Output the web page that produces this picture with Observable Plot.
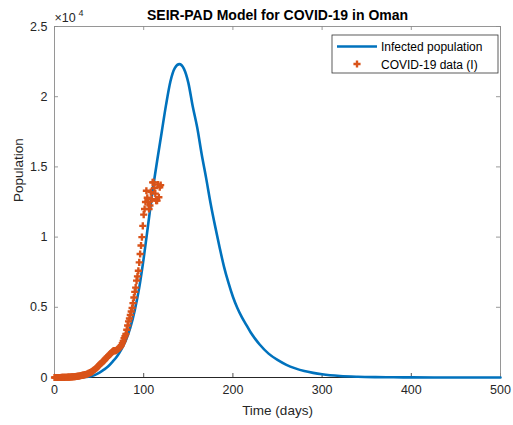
<!DOCTYPE html>
<html>
<head>
<meta charset="utf-8">
<script src="https://cdn.jsdelivr.net/npm/d3@7"></script>
<script src="https://cdn.jsdelivr.net/npm/@observablehq/plot@0.6"></script>
<style>
  html, body { margin: 0; padding: 0; background: #fff; }
  #chart { position: relative; width: 513px; height: 425px; }
  svg { font-family: "Liberation Sans", Arial, Helvetica, sans-serif; }
</style>
</head>
<body>
<div id="chart"></div>
<script>
// ---- Data ----
const titleText = "SEIR-PAD Model for COVID-19 in Oman";
const xLabel = "Time (days)";
const yLabel = "Population";
const seriesNames = ["Infected population", "COVID-19 data (I)"];

// Model curve: infected population (day, value)
const curveDays = [0, 20, 30, 40, 45, 50, 55, 60, 65, 70, 75, 80, 85, 90, 95, 100, 105, 110, 115, 120, 125, 130, 135, 140, 145, 150, 155, 160, 165, 170, 175, 180, 185, 190, 195, 200, 205, 210, 215, 220, 225, 230, 240, 250, 260, 270, 280, 290, 300, 320, 340, 360, 380, 400, 450, 500];
const curveValues = [0, 5, 20, 80, 170, 330, 540, 780, 1120, 1500, 2000, 2650, 3550, 4800, 6400, 8500, 10900, 13300, 15400, 17400, 19400, 21100, 22050, 22320, 22000, 21000, 19300, 17800, 15900, 14200, 12400, 10800, 9300, 7900, 6750, 5750, 4950, 4300, 3750, 3200, 2750, 2350, 1700, 1250, 900, 650, 460, 330, 230, 110, 55, 28, 14, 7, 2, 0];

// Reported COVID-19 data (I), one value per day starting at day 0
const dataValues = [
  0, 0, 0, 0, 0, 0, 2, 2, 5, 8,
  10, 12, 15, 18, 20, 22, 25, 30, 35, 40,
  45, 50, 55, 60, 70, 80, 90, 100, 110, 125,
  140, 150, 165, 180, 200, 215, 235, 260, 290, 320,
  350, 380, 420, 470, 520, 570, 620, 680, 740, 810,
  880, 940, 1000, 1050, 1120, 1180, 1250, 1320, 1400, 1460,
  1520, 1580, 1640, 1700, 1780, 1850, 1900, 1920, 1900, 1920,
  1980, 2020, 2080, 2130, 2200, 2300, 2450, 2600, 2800, 2950,
  3100, 3400, 3700, 4000, 4200, 4450, 4700, 4950, 5300, 5700,
  6100, 6400, 6900, 7200, 7600, 8200, 8800, 9400, 10000, 10800,
  11600, 12000, 12500, 13300, 12800, 12500, 12000, 12250, 13200, 12700,
  13900, 13900, 13500, 13100, 12600, 12600, 13750, 12840, 13550, 13700
];

const xTicks = [0, 100, 200, 300, 400, 500];
const yTicks = [0, 5000, 10000, 15000, 20000, 25000];
const yTickLabels = ["0", "0.5", "1", "1.5", "2", "2.5"];
const exponentBase = "\u00d710";
const exponent = "4";

// ---- Build tables ----
const curve = curveDays.map((d, i) => ({day: d, value: curveValues[i]}));
const data = dataValues.map((v, i) => ({day: i, value: v}));

const blue = "#0072BD";
const orange = "#D95319";
const axisColor = "#262626";
const W = 513, H = 425;
const mL = 54, mR = 13, mT = 26, mB = 48;
const frameW = W - mL - mR, frameH = H - mT - mB;
const tickLen = 4;

const plot = Plot.plot({
  width: W,
  height: H,
  marginLeft: mL,
  marginRight: mR,
  marginTop: mT,
  marginBottom: mB,
  style: {fontFamily: '"Liberation Sans", Arial, Helvetica, sans-serif', background: "#fff"},
  x: {domain: [0, 500]},
  y: {domain: [0, 25000]},
  marks: [
    // inward ticks on all four sides
    Plot.tickX(xTicks, {x: d => d, insetTop: frameH - tickLen, stroke: axisColor, strokeWidth: 0.8}),
    Plot.tickX(xTicks, {x: d => d, insetBottom: frameH - tickLen, stroke: "#808080", strokeWidth: 0.8}),
    Plot.tickY(yTicks, {y: d => d, insetRight: frameW - tickLen, stroke: "#808080", strokeWidth: 0.8}),
    Plot.tickY(yTicks, {y: d => d, insetLeft: frameW - tickLen, stroke: "#808080", strokeWidth: 0.8}),
    Plot.axisX({ticks: xTicks, tickSize: 0, tickPadding: 8, fontSize: 12.5, fill: axisColor, label: null}),
    Plot.axisY({ticks: yTicks, tickSize: 0, tickPadding: 7, fontSize: 12.5, fill: axisColor, label: null,
      tickFormat: d => yTickLabels[yTicks.indexOf(d)]}),
    Plot.frame({stroke: "#8c8c8c", strokeWidth: 0.9}),
    Plot.ruleY([0], {stroke: axisColor, strokeWidth: 1}),
    Plot.line(curve, {x: "day", y: "value", stroke: blue, strokeWidth: 2.6, curve: "monotone-x"}),
    Plot.dot(data, {x: "day", y: "value", symbol: "cross", fill: orange, stroke: null, r: 3}),
    // title and axis labels
    Plot.text([titleText], {frameAnchor: "top", dy: -7, lineAnchor: "bottom", fontSize: 14, fontWeight: "bold", fill: "#000"}),
    Plot.text([xLabel], {frameAnchor: "bottom", dy: 33, lineAnchor: "middle", fontSize: 13.5, fill: axisColor}),
    Plot.text([yLabel], {frameAnchor: "left", dx: -36, rotate: -90, lineAnchor: "middle", fontSize: 13.5, fill: axisColor}),
    Plot.text([exponentBase], {frameAnchor: "top-left", textAnchor: "start", lineAnchor: "bottom", dx: 0, dy: -5, fontSize: 12.5, fill: axisColor}),
    Plot.text([exponent], {frameAnchor: "top-left", textAnchor: "start", lineAnchor: "bottom", dx: 24, dy: -11, fontSize: 9, fill: axisColor})
  ]
});

document.getElementById("chart").appendChild(plot);

// ---- Legend (inside the axes, top-right) ----
const svg = d3.select(plot);
const lg = svg.append("g")
  .attr("font-family", '"Liberation Sans", Arial, Helvetica, sans-serif')
  .attr("text-anchor", "start");
const lx = 332, ly = 35, lw = 166, lh = 38;
lg.append("rect").attr("x", lx).attr("y", ly).attr("width", lw).attr("height", lh)
  .attr("fill", "#fff").attr("stroke", "#333").attr("stroke-width", 0.8);
lg.append("line").attr("x1", lx + 5).attr("x2", lx + 45).attr("y1", ly + 11.5).attr("y2", ly + 11.5)
  .attr("stroke", blue).attr("stroke-width", 2.6);
lg.append("path").attr("d", d3.symbol(d3.symbolCross, Math.PI * 9)()).attr("transform", `translate(${lx + 25},${ly + 29})`)
  .attr("fill", orange);
lg.append("text").attr("x", lx + 49).attr("y", ly + 16).attr("font-size", 12).attr("fill", "#000")
  .attr("text-anchor", "start").text(seriesNames[0]);
lg.append("text").attr("x", lx + 49).attr("y", ly + 33.5).attr("font-size", 12).attr("fill", "#000")
  .attr("text-anchor", "start").text(seriesNames[1]);
</script>
</body>
</html>
